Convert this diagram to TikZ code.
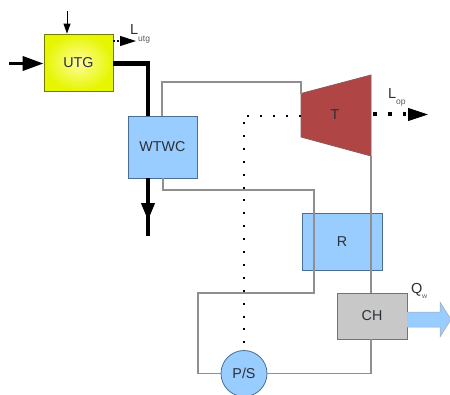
\documentclass[tikz,border=0pt]{standalone}
\usepackage{fontspec}
\setmainfont{Liberation Sans}
\usetikzlibrary{arrows.meta,calc}
\definecolor{boxblue}{HTML}{99CCFF}
\definecolor{boxedge}{HTML}{4A6E92}
\definecolor{pipe}{HTML}{8F8F8F}
\definecolor{turbine}{HTML}{B04545}
\definecolor{turbedge}{HTML}{8A5A5A}
\definecolor{chgrey}{HTML}{C8C8C8}
\definecolor{yel}{HTML}{E6F500}
\definecolor{yelc}{HTML}{FFFF99}
\definecolor{labtext}{HTML}{2A3038}
\tikzset{
  x=1pt,y=-1pt,
  blk/.style={draw=boxedge,line width=0.8pt,fill=boxblue,inner sep=0pt,font=\fontsize{14.3}{16}\selectfont,text=labtext},
  pipeline/.style={draw=pipe,line width=1.1pt},
  thickflow/.style={draw=black,line width=4.5pt},
  sigdots/.style={draw=black,line width=2pt,dash pattern=on 2pt off 10.9pt},
  workdots/.style={draw=black,line width=4pt,dash pattern=on 4pt off 11pt},
  lab/.style={inner sep=0pt,text=labtext,font=\fontsize{14.5}{16}\selectfont},
  sublab/.style={inner sep=0pt,anchor=base west,text=black!65,font=\fontsize{8.5}{9}\selectfont},
}
\begin{document}
\begin{tikzpicture}
\useasboundingbox (0,0) rectangle (450,394);
\clip (0,0) rectangle (450,394);
% turbine coordinates
\coordinate (tla) at (301,93.5);
\coordinate (tlb) at (301,137);
\coordinate (tra) at (371,75);
\coordinate (trb) at (371,156);
\coordinate (tl) at (301,116);
\coordinate (tr) at (373,114);
% free ends
\coordinate (inS) at (9,63.5);
\coordinate (topS) at (67,11);
\coordinate (outEnd) at (148,236);
\coordinate (lutgE) at (136,41);
\coordinate (lopE) at (428,114.5);
\coordinate (sigc) at (244,116);
% blocks
\node[blk,minimum width=80pt,minimum height=57pt] (r) at (342,241.5) {R};
\node[blk,draw=black!55,fill=chgrey,minimum width=70pt,minimum height=46pt] (ch) at (372,316) {CH};
\node[blk,minimum width=46pt,minimum height=46pt,shape=circle] (ps) at (244,373.5) {P/S};
\node[draw=black!50!yel,line width=0.8pt,inner color=yelc,outer color=yel,minimum width=69pt,minimum height=57pt,inner sep=0pt,font=\fontsize{14.3}{16}\selectfont,text=labtext] (utg) at (78.5,62.5) {UTG};
\node[blk,minimum width=69pt,minimum height=62pt] (wtwc) at (162.5,147) {WTWC};
% Q arrow
\draw[draw=black!35,fill=boxblue,line width=0.5pt] (407,312) -- (440,312) -- (440,302) -- (451,319.5) -- (440,337) -- (440,327) -- (407,327);
% turbine
\fill[turbine] (tla) -- (tra) -- (trb) -- (tlb) -- cycle;
\draw[turbedge,line width=0.8pt] (tla) -- (tra) -- (trb) -- (tlb) -- cycle;
\node[inner sep=0pt,font=\fontsize{14.3}{16}\selectfont,text=labtext] (t) at (335,115) {T};
% working-fluid loop
\draw[pipeline] (162,116) -- (162,82) -- (301,82) -- (tla);
\draw[pipeline] (trb) -- (trb |- ch.north);
\draw[pipeline] (trb |- ch.south) -- (371,373.5) -- (ps.east);
\draw[pipeline] (ps.west) -- (198,373.5) -- (198,293) -- (314,293) -- (314,190) -- (163,190) -- (163,178);
% thick flows
\draw[thickflow] (113,63.5) -- (148,63.5) -- (148,116);
\draw[thickflow] (148,178) -- (outEnd);
\draw[-{Triangle[length=17pt,width=14pt]},draw=black,line width=1pt] (148,203) -- (148,220);
\draw[black,line width=3.6pt,-{Triangle[length=21pt,width=14pt]}] (inS) -- (utg.west |- inS);
\draw[black,line width=0.8pt,-{Triangle[length=10pt,width=7pt]}] (topS) -- (topS |- utg.north);
% shaft / signal lines
\draw[sigdots] (tl) -- (sigc);
\draw[sigdots] (244,122) -- (244,344);
\draw[workdots] (tr) -- (406,114);
\draw[black,line width=1pt,-{Triangle[length=20pt,width=13pt]}] (408,114.5) -- (lopE);
\draw[black,line width=1.6pt,dash pattern=on 2pt off 2pt] (utg.east |- lutgE) -- (121,41);
\draw[black,line width=1pt,-{Triangle[length=16pt,width=10pt]}] (120,41) -- (lutgE);
% labels
\node[lab,anchor=base west] (lu) at (130,34.5) {L};
\node[sublab] (lusub) at (138,41) {utg};
\node[lab,anchor=base west] (lo) at (388,98) {L};
\node[sublab] (losub) at (396,104) {op};
\node[lab,anchor=base west] (qw) at (411,293) {Q};
\node[sublab,font=\fontsize{7}{8}\selectfont] (qsub) at (422,298) {w};
\end{tikzpicture}
\end{document}
